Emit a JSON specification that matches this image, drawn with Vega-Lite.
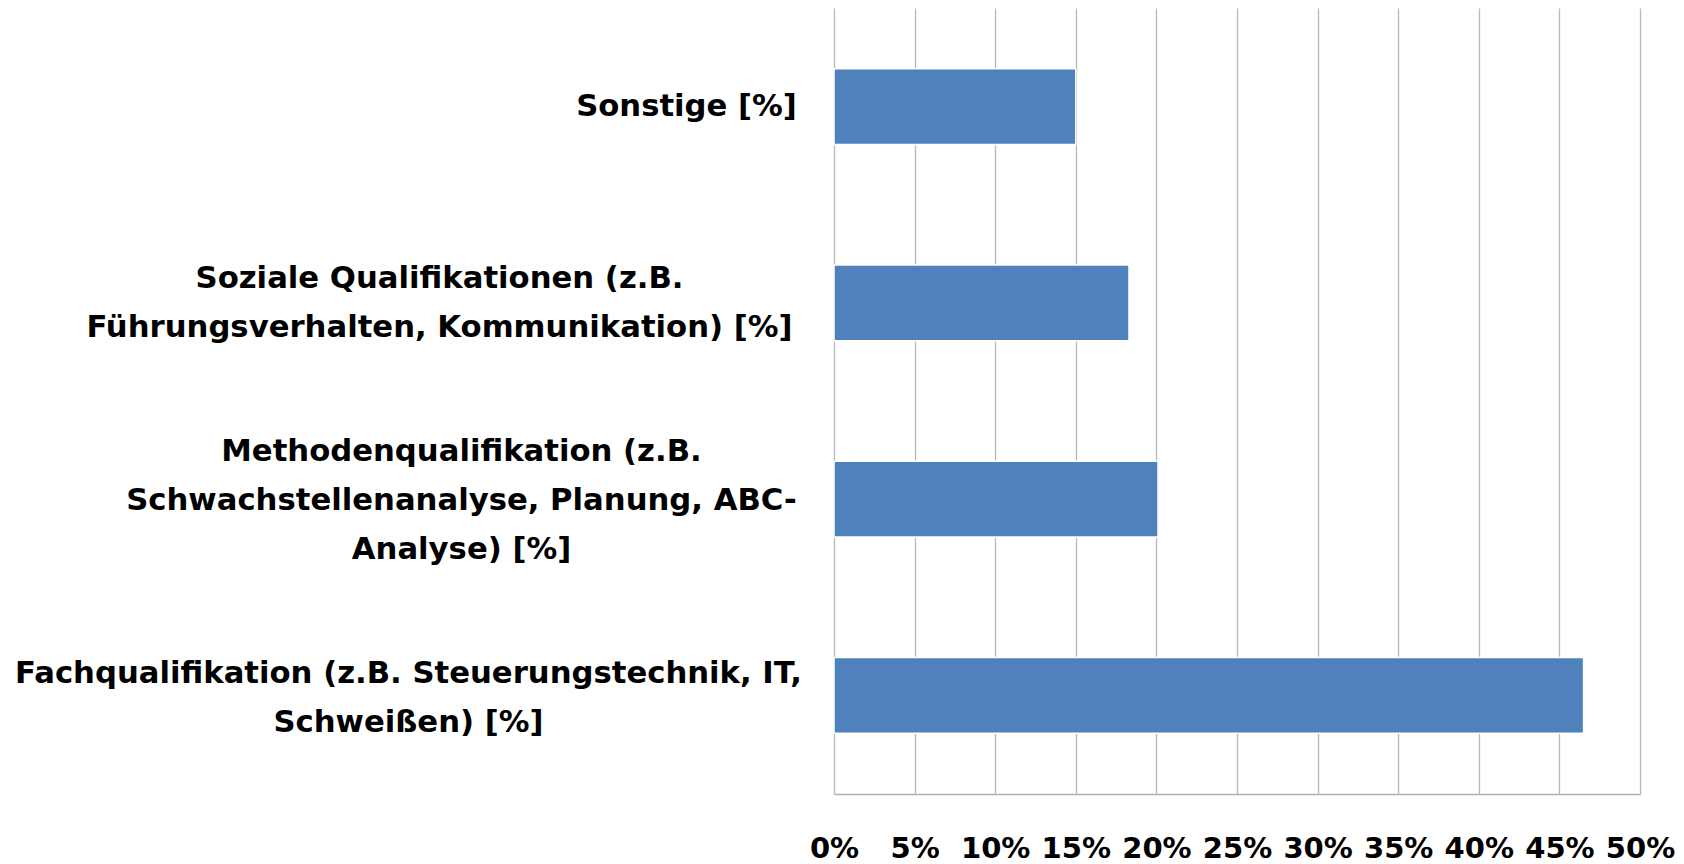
{
  "$schema": "https://vega.github.io/schema/vega-lite/v6.json",
  "autosize": "none",
  "width": 806,
  "height": 786,
  "padding": {"left": 834, "top": 8, "right": 44, "bottom": 70},
  "background": "#ffffff",
  "config": {"view": {"stroke": null}},
  "data": {
    "values": [
      {"kategorie": "Sonstige [%]", "anteil": 0.15, "ordnung": 1},
      {"kategorie": "Soziale Qualifikationen (z.B.|Führungsverhalten, Kommunikation) [%]", "anteil": 0.183, "ordnung": 2},
      {"kategorie": "Methodenqualifikation (z.B.|Schwachstellenanalyse, Planung, ABC-|Analyse) [%]", "anteil": 0.201, "ordnung": 3},
      {"kategorie": "Fachqualifikation (z.B. Steuerungstechnik, IT,|Schweißen) [%]", "anteil": 0.465, "ordnung": 4}
    ]
  },
  "mark": {"type": "bar", "color": "#4F81BD", "stroke": "#ffffff", "strokeWidth": 1.5},
  "encoding": {
    "y": {
      "field": "kategorie",
      "type": "nominal",
      "sort": {"field": "ordnung"},
      "scale": {"paddingInner": 0.615, "paddingOuter": 0.31},
      "axis": {
        "title": null,
        "domain": false,
        "ticks": false,
        "labelExpr": "split(datum.value, '|')",
        "labelFont": "DejaVu Sans",
        "labelFontWeight": "bold",
        "labelFontSize": 30.7,
        "labelLineHeight": 49,
        "labelColor": "#000000",
        "labelLimit": 900,
        "labelAlign": "center",
        "labelBaseline": "middle",
        "labelPadding": {
          "condition": [
            {"test": "indexof(datum.value, 'Sonstige') == 0", "value": 148},
            {"test": "indexof(datum.value, 'Soziale') == 0", "value": 395},
            {"test": "indexof(datum.value, 'Methoden') == 0", "value": 373}
          ],
          "value": 426
        },
        "labelOffset": {
          "condition": [
            {"test": "indexof(datum.value, 'Sonstige') == 0", "value": 0},
            {"test": "indexof(datum.value, 'Methoden') == 0", "value": -47},
            {"test": "indexof(datum.value, 'Fach') == 0", "value": -21}
          ],
          "value": -24
        }
      }
    },
    "x": {
      "field": "anteil",
      "type": "quantitative",
      "scale": {"domain": [0, 0.5], "nice": false},
      "axis": {
        "title": null,
        "format": ".0%",
        "values": [0, 0.05, 0.1, 0.15, 0.2, 0.25, 0.3, 0.35, 0.4, 0.45, 0.5],
        "grid": true,
        "gridColor": "#b9b9b9",
        "gridWidth": 1.3,
        "domainColor": "#b0b0b0",
        "domainWidth": 1.5,
        "ticks": false,
        "labelFont": "DejaVu Sans",
        "labelFontWeight": "bold",
        "labelFontSize": 29,
        "labelColor": "#000000",
        "labelPadding": 40,
        "labelBaseline": "top",
        "labelFlush": false,
        "labelOverlap": false
      }
    }
  }
}
